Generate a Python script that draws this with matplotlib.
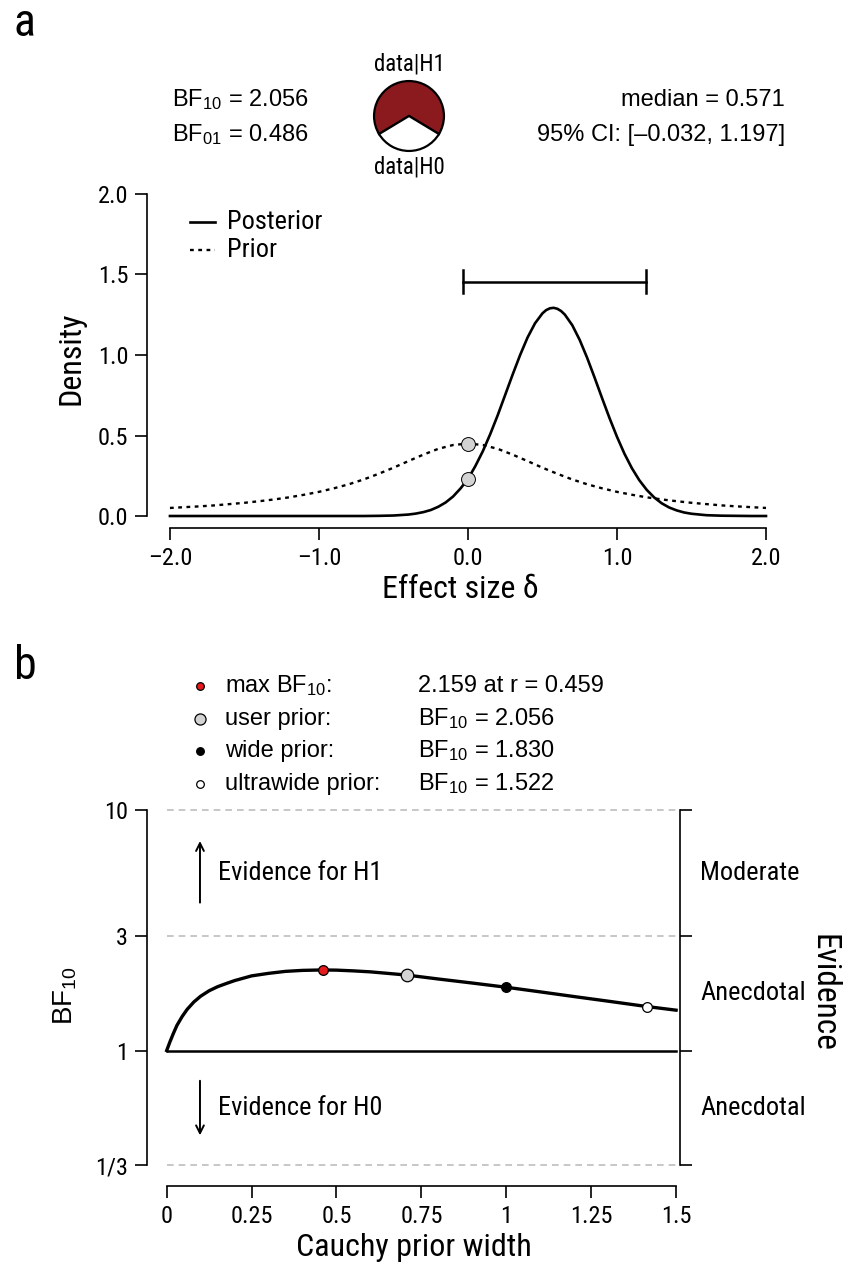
import numpy as np
import matplotlib
matplotlib.use("Agg")
import matplotlib.pyplot as plt
from matplotlib import font_manager as fm

# ---------------- data ----------------
# Panel a: prior / posterior density of effect size delta
prior_x = [-2.0, -1.9, -1.8, -1.7, -1.6, -1.5, -1.4, -1.3, -1.2, -1.1, -1.0,
           -0.9, -0.8, -0.7, -0.6, -0.5, -0.4, -0.3, -0.2, -0.1, 0.0,
           0.1, 0.2, 0.3, 0.4, 0.5, 0.6, 0.7, 0.8, 0.9, 1.0,
           1.1, 1.2, 1.3, 1.4, 1.5, 1.6, 1.7, 1.8, 1.9, 2.0]
prior_y = [0.050, 0.055, 0.060, 0.066, 0.074, 0.082, 0.092, 0.103, 0.116, 0.132, 0.150,
           0.172, 0.197, 0.227, 0.262, 0.300, 0.341, 0.381, 0.417, 0.441, 0.450,
           0.441, 0.417, 0.381, 0.341, 0.300, 0.262, 0.227, 0.197, 0.172, 0.150,
           0.132, 0.116, 0.103, 0.092, 0.082, 0.074, 0.066, 0.060, 0.055, 0.050]

post_x = [-2.0, -1.5, -1.0, -0.8, -0.7, -0.6, -0.5, -0.4, -0.35, -0.3, -0.25, -0.2,
          -0.15, -0.1, -0.05, 0.0, 0.05, 0.1, 0.15, 0.2, 0.25, 0.3, 0.35, 0.4,
          0.45, 0.5, 0.525, 0.55, 0.575, 0.6, 0.625, 0.65, 0.7, 0.75, 0.8, 0.85, 0.9, 0.95, 1.0,
          1.05, 1.1, 1.15, 1.2, 1.25, 1.3, 1.35, 1.4, 1.45, 1.5, 1.6, 1.7,
          1.8, 1.9, 2.0]
post_y = [0.0, 0.0, 0.0, 0.0, 0.0, 0.001, 0.003, 0.009, 0.015, 0.024, 0.037, 0.057,
          0.084, 0.121, 0.171, 0.230, 0.311, 0.403, 0.510, 0.627, 0.753, 0.879, 1.000, 1.109,
          1.197, 1.259, 1.279, 1.290, 1.293, 1.287, 1.273, 1.251, 1.185, 1.093, 0.982, 0.859,
          0.732, 0.608, 0.492,
          0.387, 0.297, 0.222, 0.162, 0.115, 0.079, 0.053, 0.035, 0.022, 0.014, 0.005, 0.002,
          0.001, 0.0, 0.0]

point_x = [0.0, 0.0]
point_y = [0.450, 0.230]          # prior and posterior density at delta = 0
ci_lower, ci_upper = -0.032, 1.197
ci_height = 1.455

bf10 = 2.056
bf01 = 0.486
post_median = 0.571

# Panel b: Bayes factor robustness check
r_vals = [0.0, 0.01, 0.02, 0.03, 0.045, 0.06, 0.08, 0.1, 0.125, 0.15, 0.177, 0.2,
          0.25, 0.3, 0.35, 0.4, 0.459, 0.5, 0.55, 0.6, 0.65, 0.707, 0.8, 0.9,
          1.0, 1.1, 1.2, 1.3, 1.414, 1.5]
bf_vals = [1.00, 1.09, 1.18, 1.27, 1.38, 1.48, 1.59, 1.68, 1.77, 1.84, 1.90, 1.95,
           2.04, 2.09, 2.13, 2.15, 2.159, 2.155, 2.14, 2.12, 2.09, 2.056, 1.98, 1.905,
           1.83, 1.751, 1.674, 1.602, 1.522, 1.47]

special_r = [0.459, 0.707, 1.0, 1.414]
special_bf = [2.159, 2.056, 1.830, 1.522]
special_labels = ["max BF$_{10}$:", "user prior:", "wide prior:", "ultrawide prior:"]
special_texts = ["2.159 at r = 0.459", "BF$_{10}$ = 2.056", "BF$_{10}$ = 1.830", "BF$_{10}$ = 1.522"]
special_face = ["#E41A1C", "#D3D3D3", "black", "white"]
special_size = [7, 9, 7, 7]
legend_size = [5.5, 8, 5.5, 5.5]

b_ticks = [1/3, 1, 3, 10]
b_ticklabels = ["1/3", "1", "3", "10"]
evidence_labels = ["Moderate", "Anecdotal", "Anecdotal"]
evidence_pos = [np.sqrt(30), np.sqrt(3), 1/np.sqrt(3)]

# ---------------- fonts ----------------
def has_font(name):
    try:
        fm.findfont(fm.FontProperties(family=name), fallback_to_default=False)
        return True
    except Exception:
        return False

NARROW = "Liberation Sans"
for cand in ["Liberation Sans Narrow", "Roboto Condensed", "Archivo Narrow", "PT Sans Narrow"]:
    if has_font(cand):
        NARROW = cand
        break
REG = "Liberation Sans"
plt.rcParams["font.family"] = [REG, "DejaVu Sans"]
plt.rcParams["mathtext.fontset"] = "custom"
plt.rcParams["mathtext.rm"] = REG
plt.rcParams["mathtext.it"] = REG + ":italic"

W, H = 845, 1262
fig = plt.figure(figsize=(W / 100, H / 100), dpi=100)

def fx(px):
    return px / W

def fy(py):
    return 1 - py / H

def rect(l, t, r, b):
    return [fx(l), fy(b), (r - l) / W, (b - t) / H]

TICK_FS = 17.5
LABEL_FS = 23
TEXT_FS = 17
NARROW_TEXT_FS = 19

def style_axis(ax):
    ax.tick_params(axis="both", direction="out", length=8.5, width=1.2,
                   labelsize=TICK_FS, pad=5)
    for lab in ax.get_xticklabels() + ax.get_yticklabels():
        lab.set_fontfamily(NARROW)
    for s in ax.spines.values():
        s.set_linewidth(1.2)

# ================= Panel a =================
fig.text(fx(14), fy(36), "a", fontsize=33, family=NARROW, va="baseline", ha="left")

ax1 = fig.add_axes(rect(147, 189, 773, 528))
ax1.set_xlim(-2.154, 2.047)
ax1.set_ylim(-0.0745, 2.031)
ax1.plot(post_x, post_y, color="black", lw=1.9, solid_joinstyle="round")
ax1.plot(prior_x, prior_y, color="black", lw=1.7, linestyle=(0, (1.6, 1.9)))
ax1.plot(point_x, point_y, "o", ms=10, mfc="#D3D3D3", mec="black", mew=0.7, zorder=5)
# credible interval
ax1.plot([ci_lower, ci_upper], [ci_height, ci_height], color="black", lw=1.8)
for xc in (ci_lower, ci_upper):
    ax1.plot([xc, xc], [ci_height - 0.07, ci_height + 0.07], color="black", lw=1.8)
# legend
ax1.plot([-1.865, -1.70], [1.828, 1.828], color="black", lw=1.9)
ax1.plot([-1.865, -1.70], [1.652, 1.652], color="black", lw=1.7, linestyle=(0, (1.6, 1.9)))
ax1.text(-1.62, 1.828, "Posterior", fontsize=NARROW_TEXT_FS, family=NARROW, va="center", ha="left")
ax1.text(-1.62, 1.652, "Prior", fontsize=NARROW_TEXT_FS, family=NARROW, va="center", ha="left")

ax1.spines["top"].set_visible(False)
ax1.spines["right"].set_visible(False)
ax1.spines["left"].set_bounds(0, 2)
ax1.spines["bottom"].set_bounds(-2, 2)
ax1.set_xticks([-2, -1, 0, 1, 2])
ax1.set_xticklabels(["\u20132.0", "\u20131.0", "0.0", "1.0", "2.0"])
ax1.set_yticks([0, 0.5, 1, 1.5, 2])
ax1.set_yticklabels(["0.0", "0.5", "1.0", "1.5", "2.0"])
style_axis(ax1)
ax1.set_xlabel("Effect size \u03b4", fontsize=LABEL_FS, family=NARROW, labelpad=4)
ax1.set_ylabel("Density", fontsize=LABEL_FS, family=NARROW, labelpad=9)

# header texts
fig.text(fx(172), fy(100), "BF$_{10}$ = %.3f" % bf10, fontsize=TEXT_FS, ha="left", va="center")
fig.text(fx(172), fy(135), "BF$_{01}$ = %.3f" % bf01, fontsize=TEXT_FS, ha="left", va="center")
fig.text(fx(785), fy(100), "median = %.3f" % post_median, fontsize=TEXT_FS, ha="right", va="center")
fig.text(fx(785), fy(135), "95%% CI: [\u2013%.3f, %.3f]" % (abs(ci_lower), ci_upper),
         fontsize=TEXT_FS, ha="right", va="center")

# pie
axp = fig.add_axes(rect(373, 80, 445, 152))
axp.pie([bf10, 1.0], colors=["#8B1A1E", "white"], startangle=270 + 180 / (1 + bf10),
        counterclock=True, wedgeprops=dict(edgecolor="black", linewidth=1.6))
axp.set_aspect("equal")
axp.set_xlim(-1.03, 1.03)
axp.set_ylim(-1.03, 1.03)
axp.axis("off")
fig.text(fx(409), fy(64), "data|H1", fontsize=16.5, family=NARROW, ha="center", va="center")
fig.text(fx(409), fy(167), "data|H0", fontsize=16.5, family=NARROW, ha="center", va="center")

# ================= Panel b =================
fig.text(fx(14), fy(679), "b", fontsize=33, family=NARROW, va="baseline", ha="left")

ax2 = fig.add_axes(rect(147, 805, 680.5, 1186))
ax2.set_yscale("log")
ax2.set_xlim(-0.058, 1.513)
ax2.set_ylim(0.274, 10.44)
for yv in (1/3, 3, 10):
    ax2.plot([0, 1.5], [yv, yv], color="#BEBEBE", lw=1.2, linestyle=(0, (4, 3)))
ax2.plot([0, 1.5], [1, 1], color="black", lw=1.8)
ax2.plot(r_vals, bf_vals, color="black", lw=2.4, solid_joinstyle="round")
for xv, yv, fc, ms in zip(special_r, special_bf, special_face, special_size):
    ax2.plot([xv], [yv], "o", ms=ms, mfc=fc, mec="black", mew=0.9, zorder=5)

ax2.spines["top"].set_visible(False)
ax2.spines["left"].set_bounds(1/3, 10)
ax2.spines["right"].set_bounds(1/3, 10)
ax2.spines["bottom"].set_bounds(0, 1.5)
ax2.set_yticks(b_ticks)
ax2.set_yticklabels(b_ticklabels)
ax2.yaxis.set_minor_locator(matplotlib.ticker.NullLocator())
ax2.set_xticks([0, 0.25, 0.5, 0.75, 1, 1.25, 1.5])
ax2.set_xticklabels(["0", "0.25", "0.5", "0.75", "1", "1.25", "1.5"])
ax2.tick_params(axis="y", right=True, labelright=False)
style_axis(ax2)
ax2.set_xlabel("Cauchy prior width", fontsize=LABEL_FS, family=NARROW, labelpad=4)
ax2.set_ylabel("BF$_{10}$", fontsize=20, labelpad=12)

# arrows and evidence text
ax2.annotate("", xy=(0.098, 7.6), xytext=(0.098, 4.0),
             arrowprops=dict(arrowstyle="->", lw=1.4, color="black", mutation_scale=14))
ax2.annotate("", xy=(0.098, 0.433), xytext=(0.098, 0.769),
             arrowprops=dict(arrowstyle="->", lw=1.4, color="black", mutation_scale=14))
ax2.text(0.152, np.sqrt(30), "Evidence for H1", fontsize=NARROW_TEXT_FS, family=NARROW,
         va="center", ha="left")
ax2.text(0.152, 1/np.sqrt(3), "Evidence for H0", fontsize=NARROW_TEXT_FS, family=NARROW,
         va="center", ha="left")
for lab, yv in zip(evidence_labels, evidence_pos):
    ax2.text(1.571, yv, lab, fontsize=NARROW_TEXT_FS, family=NARROW, va="center", ha="left",
             clip_on=False)
ax2.text(1.935, np.sqrt(3), "Evidence", fontsize=24, family=NARROW, va="center",
         ha="center", rotation=270, clip_on=False)

# legend rows for special points
rows_y = [686, 719, 751, 784]
for yy, lab, txt, fc, ms in zip(rows_y, special_labels, special_texts, special_face, legend_size):
    fig.lines.append(matplotlib.lines.Line2D([fx(200)], [fy(yy)], marker="o", ms=ms, mfc=fc,
                                             mec="black", mew=0.9, transform=fig.transFigure))
    fig.text(fx(225), fy(yy), lab, fontsize=TEXT_FS, ha="left", va="center")
    fig.text(fx(418), fy(yy), txt, fontsize=TEXT_FS, ha="left", va="center")

fig.savefig("out.png", dpi=100)
